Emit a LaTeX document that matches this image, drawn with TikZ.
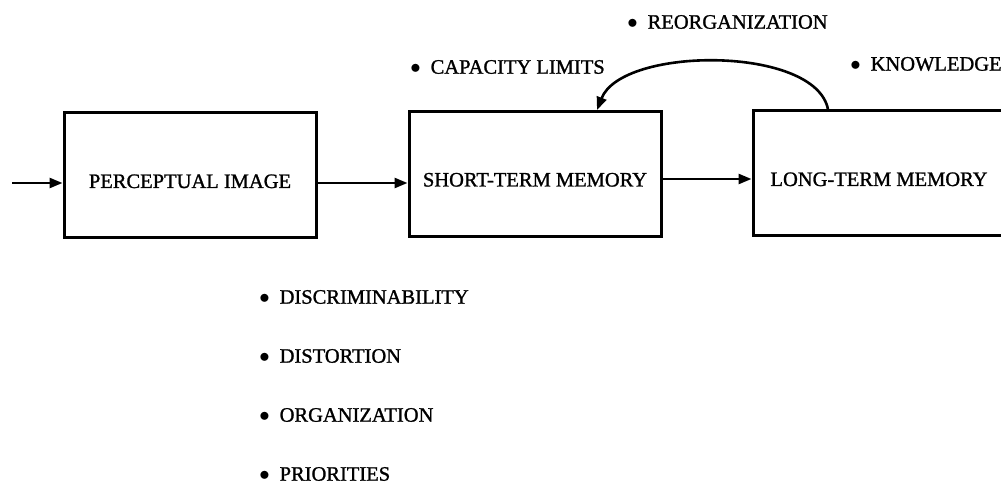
\documentclass[tikz,border=0pt]{standalone}
\usepackage{fontspec}
\setmainfont{Liberation Serif}
\newfontfamily\scanfont[FakeBold=1.2]{Liberation Serif}
\usetikzlibrary{arrows.meta}

\newcommand{\itm}[1]{$\bullet$\hspace{10pt}#1}

\tikzset{every picture/.style={line width=2.6pt}}

\begin{document}
\begin{tikzpicture}[x=1pt,y=1pt,yscale=-1,xscale=1,
	memory/.style={draw, line width=3pt, minimum width=252pt, minimum height=125pt, inner sep=0pt, text height=25pt, text depth=0pt, font=\scanfont\fontsize{20.5}{24}\selectfont},
	item/.style={anchor=west, inner sep=0pt, font=\scanfont\fontsize{20.5}{24}\selectfont},
	flow/.style={-{Triangle[length=13pt,width=10pt]}, line width=2.6pt}]
	\useasboundingbox (0,0) rectangle (1001,486);
	\clip (0,0) rectangle (1001,486);
	
	%Shape: Rectangle
	\node [memory] (pi) at (190,175.5) {PERCEPTUAL IMAGE};
	%Shape: Rectangle
	\node [memory] (stm) at (535,174) {SHORT-TERM MEMORY};
	%Shape: Rectangle
	\node [memory] (ltm) at (879,173.5) {LONG-TERM MEMORY};
	\coordinate (in) at (12,183);
	
	%Straight Lines
	\draw [flow] (in) -- (in -| pi.west);
	%Straight Lines
	\draw [flow] ([yshift=7.5pt]pi.east) -- ([yshift=7.5pt]pi.east -| stm.west);
	%Straight Lines
	\draw [flow] ([yshift=5pt]stm.east) -- ([yshift=5pt]stm.east -| ltm.west);
	%Curve Lines
	\draw [flow] ([xshift=-51pt]ltm.north) .. controls +(-12,-64) and +(25,-64) .. ([xshift=62pt]stm.north);
	
	% Text Node
	\node [item] (reorg) at (626,22) {\itm{REORGANIZATION}};
	% Text Node
	\node [item] (cap) at (409,67) {\itm{CAPACITY LIMITS}};
	% Text Node
	\node [item] (know) at (849,64) {\itm{KNOWLEDGE}};
	% Text Node
	\node [item] (discr) at (258,297) {\itm{DISCRIMINABILITY}};
	% Text Node
	\node [item] (dist) at (258,356) {\itm{DISTORTION}};
	% Text Node
	\node [item] (org) at (258,415) {\itm{ORGANIZATION}};
	% Text Node
	\node [item] (prio) at (258,474) {\itm{PRIORITIES}};
	
\end{tikzpicture}
\end{document}
